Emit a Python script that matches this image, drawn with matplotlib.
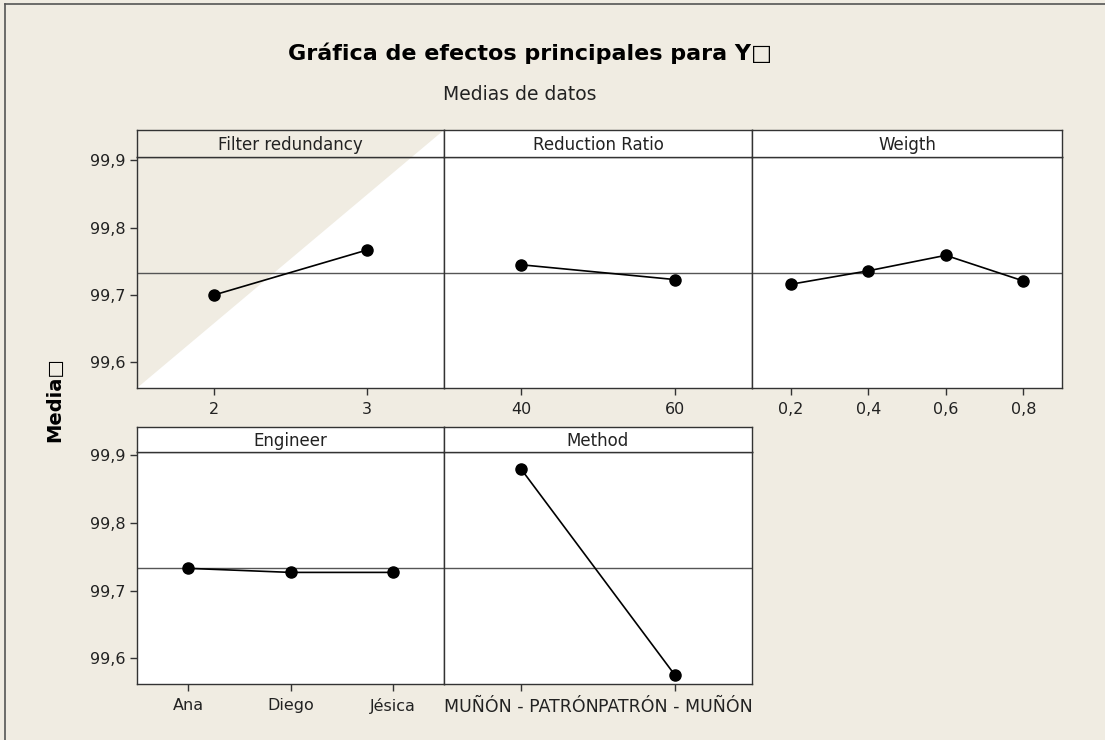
import matplotlib
matplotlib.use('Agg')
import matplotlib.pyplot as plt
from matplotlib.patches import Polygon
from matplotlib.lines import Line2D

W, H = 1105, 740
BG = '#F0ECE2'
DARK = '#333333'

title = 'Gráfica de efectos principales para Y\u25a1'
subtitle = 'Medias de datos'
ylabel = 'Media\u25a1'

factor_names = ['Filter redundancy', 'Reduction Ratio', 'Weigth', 'Engineer', 'Method']
filter_levels = ['2', '3']
filter_means = [99.700, 99.767]
ratio_levels = ['40', '60']
ratio_means = [99.745, 99.723]
weight_levels = ['0,2', '0,4', '0,6', '0,8']
weight_means = [99.716, 99.736, 99.759, 99.721]
engineer_levels = ['Ana', 'Diego', 'Jésica']
engineer_means = [99.733, 99.727, 99.727]
method_levels = ['MUÑÓN - PATRÓN', 'PATRÓN - MUÑÓN']
method_means = [99.880, 99.575]
grand_mean = 99.733
ytick_values = [99.6, 99.7, 99.8, 99.9]
ytick_labels = ['99,6', '99,7', '99,8', '99,9']

fig = plt.figure(figsize=(W / 100, H / 100), dpi=100, facecolor=BG)


def frac_box(x0, x1, ytop, ybot):
    return [x0 / W, 1 - ybot / H, (x1 - x0) / W, (ybot - ytop) / H]


# pixel layout: (left, right, header_top, header_bottom, plot_bottom)
boxes = [
    (137, 444, 130, 157, 388),
    (444, 752, 130, 157, 388),
    (752, 1062, 130, 157, 388),
    (137, 444, 427, 452, 684),
    (444, 752, 427, 452, 684),
]
levels_all = [filter_levels, ratio_levels, weight_levels, engineer_levels, method_levels]
means_all = [filter_means, ratio_means, weight_means, engineer_means, method_means]
first_col = [True, False, False, True, False]
xlabel_size = [11.5, 11.5, 11.5, 11.5, 12.5]

for i, (name, levs, means, box) in enumerate(zip(factor_names, levels_all, means_all, boxes)):
    x0, x1, ht, hb, pb = box
    ax = fig.add_axes(frac_box(x0, x1, hb, pb))
    hax = fig.add_axes(frac_box(x0, x1, ht, hb))
    for a in (ax, hax):
        a.set_facecolor('white')
        for s in a.spines.values():
            s.set_color(DARK)
            s.set_linewidth(1.0)
    hax.set_xticks([])
    hax.set_yticks([])
    hax.text(0.5, 0.45, name, transform=hax.transAxes, ha='center', va='center',
             fontsize=12, color='#222222', zorder=3)

    if i == 0:
        tri = [(x0 / W, 1 - pb / H), (x0 / W, 1 - ht / H), (x1 / W, 1 - ht / H)]
        for a in (ax, hax):
            a.add_patch(Polygon(tri, closed=True, transform=fig.transFigure,
                                facecolor=BG, edgecolor='none', zorder=0.5))

    xs = list(range(len(levs)))
    ax.axhline(grand_mean, color='#555555', lw=1.0, zorder=1)
    ax.plot(xs, means, color='black', lw=1.2, marker='o', markersize=8, zorder=3)
    ax.set_xlim(-0.5, len(levs) - 0.5)
    ax.set_ylim(99.562, 99.905)
    ax.set_xticks(xs)
    ax.set_xticklabels(levs, fontsize=xlabel_size[i], color='#222222')
    ax.set_yticks(ytick_values)
    if first_col[i]:
        ax.set_yticklabels(ytick_labels, fontsize=11.5, color='#222222')
        ax.tick_params(axis='y', direction='out', length=5, width=1, color=DARK, pad=3.5)
    else:
        ax.tick_params(axis='y', left=False, labelleft=False)
    ax.tick_params(axis='x', direction='out', length=5, width=1, color=DARK, pad=5)

fig.text(530 / W, 1 - 53 / H, title, ha='center', va='center', fontsize=16,
         fontweight='bold', color='black')
fig.text(520 / W, 1 - 95 / H, subtitle, ha='center', va='center', fontsize=13.5,
         color='#222222')
fig.text(55 / W, 1 - 400 / H, ylabel, ha='center', va='center', rotation=90,
         fontsize=14, fontweight='bold', color='black')

fig.add_artist(Line2D([5 / W, 1], [1 - 4 / H, 1 - 4 / H], transform=fig.transFigure,
                      color='#555555', lw=1.2))
fig.add_artist(Line2D([5 / W, 5 / W], [0, 1 - 4 / H], transform=fig.transFigure,
                      color='#555555', lw=1.2))

fig.savefig('out.png', dpi=100, facecolor=BG)
